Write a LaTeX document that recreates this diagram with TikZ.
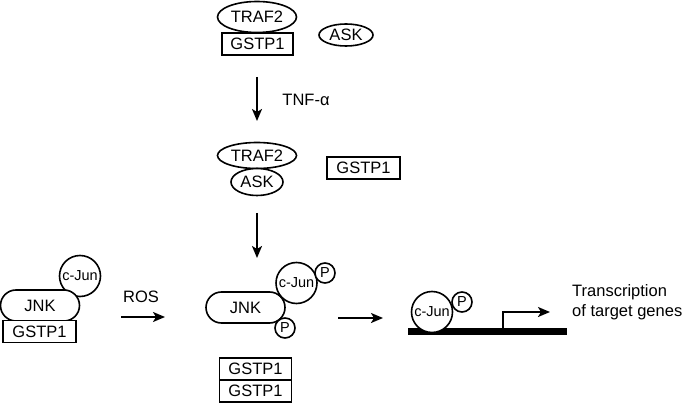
\documentclass[tikz,border=0pt]{standalone}
\usepackage{fontspec}
\setmainfont{Liberation Sans}
\usetikzlibrary{shapes.geometric,shapes.misc,arrows.meta}
\begin{document}
\begin{tikzpicture}[x=1pt,y=-1pt,
  every node/.style={font=\fontsize{16.5}{20}\selectfont},
  lw/.style={line width=1.6pt},
  oval/.style={ellipse,draw,lw,fill=white,inner sep=0pt},
  gbox/.style={rectangle,draw,lw,fill=white,inner sep=0pt,minimum width=72pt,minimum height=22pt},
  jnk/.style={rounded rectangle,draw,lw,fill=white,inner sep=0pt,minimum width=79pt,minimum height=31pt},
  cjun/.style={circle,draw,lw,fill=white,inner sep=0pt,minimum size=41pt,font=\fontsize{14.5}{16}\selectfont},
  phos/.style={circle,draw,lw,fill=white,inner sep=0pt,minimum size=20pt,font=\fontsize{14.5}{16}\selectfont},
  arr/.style={line width=1.8pt,-{Stealth[length=12pt,width=10pt,inset=3pt]}}]
\useasboundingbox (0,0) rectangle (682,403);
% top complex
\node[oval,minimum width=79pt,minimum height=31pt] (t1) at (257,17) {TRAF2};
\node[gbox,minimum width=71pt] (g1) at (257.5,44) {GSTP1};
\node[oval,minimum width=54pt,minimum height=22pt] (a1) at (346,35) {ASK};
\coordinate (s1) at (257,77);
\coordinate (e1) at (257,121);
\draw[arr] (s1) -- (e1);
\node (tnf) at (306,100) {TNF-α};
% second complex
\node[oval,minimum width=79pt,minimum height=26pt] (t2) at (257,155.5) {TRAF2};
\node[oval,minimum width=52pt,minimum height=27pt] (a2) at (257,182) {ASK};
\node[gbox,minimum width=73pt] (g2) at (363.5,168) {GSTP1};
\coordinate (s2) at (257,213);
\coordinate (e2) at (257,258);
\draw[arr] (s2) -- (e2);
% left complex
\node[cjun] (cj1) at (80,276) {c-Jun};
\node[jnk] (j1) at (40,305.5) {JNK};
\node[gbox,minimum width=73pt] (g3) at (39.5,331.5) {GSTP1};
\coordinate (s3) at (121,317);
\coordinate (e3) at (165,317);
\draw[arr] (s3) -- (e3);
\node (ros) at (141,297) {ROS};
% middle complex
\node[jnk] (j2) at (245.5,307.5) {JNK};
\node[cjun] (cj2) at (296.5,283) {c-Jun};
\node[phos] (p1) at (325,273) {P};
\node[phos] (p2) at (285,328) {P};
\node[gbox] (g4) at (255.5,369) {GSTP1};
\node[gbox] (g5) at (255.5,391) {GSTP1};
\coordinate (s4) at (338,318);
\coordinate (e4) at (383,318);
\draw[arr] (s4) -- (e4);
% gene
\node[rectangle,fill=black,inner sep=0pt,minimum width=159pt,minimum height=7pt] (bar) at (487.5,331.5) {};
\node[cjun] (cj3) at (432,312) {c-Jun};
\node[phos] (p3) at (462,302) {P};
\coordinate (tss) at (503,329);
\coordinate (te) at (550,312);
\draw[arr] (tss) |- (te);
\node[anchor=west,align=left,inner sep=0pt] (txt) at (572,302) {Transcription\\of target genes};
\end{tikzpicture}
\end{document}
